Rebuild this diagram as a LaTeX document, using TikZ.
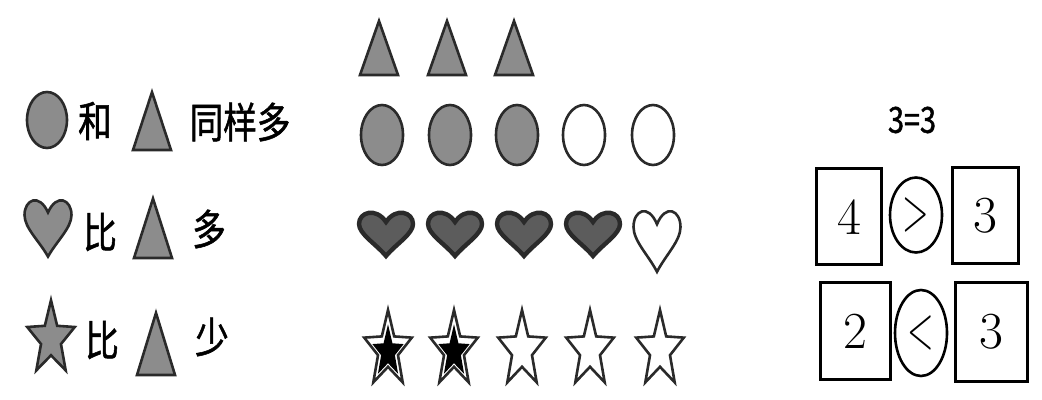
\documentclass[tikz,border=0pt]{standalone}
\usepackage{fontspec}
\usepackage{graphicx}
\newfontfamily\cjk[FakeStretch=0.8,FakeBold=1.2]{Noto Sans CJK SC}
\usepackage{xcolor}
\usetikzlibrary{shapes.geometric}

\definecolor{shapegray}{HTML}{8C8C8C}
\definecolor{heartgray}{HTML}{5C5C5C}
\definecolor{inkgray}{HTML}{2A2A2A}

\begin{document}
\begin{tikzpicture}[x=0.5pt,y=-0.5pt,
  line width=1.3pt,
  word/.style={font=\cjk\fontsize{21}{21}\selectfont,inner sep=0},
  oval/.style={ellipse,draw=inkgray,minimum width=21pt,minimum height=30pt,inner sep=0},
  numbox/.style={draw=black,line width=1.5pt,minimum width=33pt,minimum height=48pt,inner sep=0,font=\fontsize{26}{26}\selectfont},
  signoval/.style={ellipse,draw=black,minimum width=26pt,minimum height=38pt,inner sep=0,font=\fontsize{26}{26}\selectfont},
  grayfill/.style={draw=inkgray,fill=shapegray},
  darkheart/.style={draw=inkgray,fill=heartgray,line width=2.2pt},
  tri/.pic={\draw[pic actions] (-19,0) -- (0,-54) -- (19,0) -- cycle;},
  heart/.pic={\draw[pic actions] (0,22) .. controls (-10,10) and (-27,0) .. (-27,-10)
     .. controls (-27,-22) and (-10,-27) .. (0,-12) .. controls (10,-27) and (27,-22) .. (27,-10)
     .. controls (27,0) and (10,10) .. (0,22) -- cycle;},
  starpic/.pic={\draw[pic actions] (0,-40) \foreach \i in {1,...,9}
     { -- ({25*cos(90+36*\i)*(mod(\i,2)==0?1:0.42)},{-40*sin(90+36*\i)*(mod(\i,2)==0?1:0.42)}) } -- cycle;}]
\useasboundingbox (0,0) rectangle (1042,400);

% key on the left
\node[oval,fill=shapegray,minimum width=20pt,minimum height=28pt] (keyoval) at (47,120) {};
\node[word] (he) at (95,121) {和};
\pic[grayfill,yscale=1.07] at (152,150) {tri};
\node[word] (same) at (240,122) {同样多};

\pic[grayfill,xscale=.87,yscale=1.3] at (48,228) {heart};
\node[word] (bi1) at (100,232) {比};
\pic[grayfill,yscale=1.1] at (153,258) {tri};
\node[word] (more) at (209,229) {多};

\pic[grayfill,yscale=.97] at (51,339) {starpic};
\node[word] (bi2) at (102,340) {比};
\pic[grayfill,yscale=1.15] at (156,375) {tri};
\node[word] (less) at (212,337) {少};

% rows of shapes
\foreach \x in {379,447,514}
  \pic[grayfill] at (\x,75) {tri};
\foreach \x [count=\i] in {382,450,517}
  \node[oval,fill=shapegray] (ov\i) at (\x,135) {};
\foreach \x [count=\i from 4] in {584,653}
  \node[oval,fill=white] (ov\i) at (\x,135) {};
\foreach \x in {386,455,524,593}
  \pic[darkheart] at (\x,234) {heart};
\pic[draw=inkgray,fill=white,xscale=.87,yscale=1.4] at (657,241) {heart};
\foreach \x in {388,454}{
  \pic[draw=inkgray,fill=white] at (\x,350) {starpic};
  \pic[fill=black,draw=black,scale=.55] at (\x,352) {starpic};
}
\foreach \x in {522,590,660}
  \pic[draw=inkgray,fill=white] at (\x,350) {starpic};

% comparisons
\node[font=\cjk\fontsize{18}{18}\selectfont] (eq) at (912,120) {3=3};
\node[numbox,minimum width=32.5pt] (four) at (849,217) {4};
\node[signoval,minimum height=37.5pt] (gt) at (916,215) {\scalebox{.7}[1.25]{$>$}};
\node[numbox] (three1) at (985,216) {3};
\node[numbox,minimum width=35pt] (two) at (855,331) {2};
\node[signoval,minimum height=43pt] (lt) at (921,333) {\scalebox{.7}[1.25]{$<$}};
\node[numbox,minimum width=36pt,minimum height=49pt] (three2) at (991,332) {3};
\end{tikzpicture}
\end{document}
